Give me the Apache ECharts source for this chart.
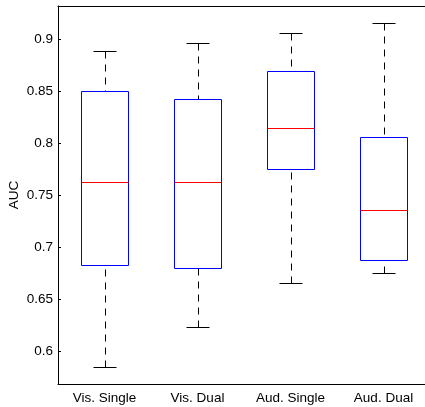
<!DOCTYPE html>
<html>
<head>
<meta charset="utf-8">
<script src="https://cdn.jsdelivr.net/npm/echarts@6/dist/echarts.min.js"></script>
<style>html,body{margin:0;padding:0;background:#fff}#c{width:425px;height:407px}</style>
</head>
<body>
<div id="c"></div>
<script>
const categories = ['Vis. Single', 'Vis. Dual', 'Aud. Single', 'Aud. Dual'];
const lowerWhisker = [0.585, 0.624, 0.666, 0.676];
const q1 = [0.683, 0.680, 0.775, 0.688];
const median = [0.763, 0.763, 0.815, 0.736];
const q3 = [0.850, 0.843, 0.870, 0.806];
const upperWhisker = [0.889, 0.896, 0.906, 0.916];

const data = categories.map((c, i) => [i, lowerWhisker[i], q1[i], median[i], q3[i], upperWhisker[i]]);
const FONT = 'Liberation Sans, Arial, Helvetica, sans-serif';
const r = v => Math.round(v) + 0.5;

function renderItem(params, api) {
  const x = api.coord([api.value(0), 0])[0];
  const band = api.size([1, 0])[0];
  const yLo = r(api.coord([api.value(0), api.value(1)])[1]);
  const yQ1 = r(api.coord([api.value(0), api.value(2)])[1]);
  const yMed = r(api.coord([api.value(0), api.value(3)])[1]);
  const yQ3 = r(api.coord([api.value(0), api.value(4)])[1]);
  const yHi = r(api.coord([api.value(0), api.value(5)])[1]);
  const cx = r(x);
  const hw = band * 0.25;
  const cw = band * 0.125;
  const xl = r(x - hw), xr = r(x + hw);
  const dash = { stroke: '#000', lineWidth: 1, lineDash: [7, 6] };
  const solid = { stroke: '#000', lineWidth: 1 };
  return {
    type: 'group',
    children: [
      { type: 'line', shape: { x1: cx, y1: yHi, x2: cx, y2: yQ3 }, style: dash },
      { type: 'line', shape: { x1: cx, y1: yLo, x2: cx, y2: yQ1 }, style: dash },
      { type: 'line', shape: { x1: r(x - cw), y1: yHi, x2: r(x + cw), y2: yHi }, style: solid },
      { type: 'line', shape: { x1: r(x - cw), y1: yLo, x2: r(x + cw), y2: yLo }, style: solid },
      { type: 'rect', shape: { x: xl, y: yQ3, width: xr - xl, height: yQ1 - yQ3 }, style: { fill: 'none', stroke: '#0000ff', lineWidth: 1 } },
      { type: 'line', shape: { x1: xl, y1: yMed, x2: xr, y2: yMed }, style: { stroke: '#ff0000', lineWidth: 1 } }
    ]
  };
}

const chart = echarts.init(document.getElementById('c'), null, { renderer: 'canvas' });
chart.setOption({
  animation: false,
  backgroundColor: '#fff',
  grid: { left: 58, top: 6, right: -5, bottom: 23, containLabel: false, outerBoundsMode: 'none' },
  xAxis: [
    {
      type: 'category', data: categories, position: 'bottom', boundaryGap: true,
      axisLine: { lineStyle: { color: '#000', width: 1 } },
      axisTick: { inside: true, alignWithLabel: true, length: 3, lineStyle: { color: '#000' } },
      axisLabel: { color: '#000', fontSize: 13.5, fontFamily: FONT, margin: 7 },
      splitLine: { show: false }
    },
    {
      type: 'category', data: categories, position: 'top', boundaryGap: true,
      axisLine: { lineStyle: { color: '#000', width: 1 } },
      axisTick: { inside: true, alignWithLabel: true, length: 3, lineStyle: { color: '#000' } },
      axisLabel: { show: false },
      splitLine: { show: false }
    }
  ],
  yAxis: {
    type: 'value', min: 0.569, max: 0.932, splitNumber: 7,
    name: 'AUC', nameLocation: 'middle', nameGap: 37, nameMoveOverlap: false,
    nameTextStyle: { color: '#000', fontSize: 13.5, fontFamily: FONT },
    axisLine: { show: true, lineStyle: { color: '#000', width: 1 } },
    axisTick: { show: true, inside: true, length: 3, lineStyle: { color: '#000' } },
    axisLabel: {
      color: '#000', fontSize: 13.5, fontFamily: FONT, margin: 5,
      showMinLabel: false, showMaxLabel: false,
      formatter: v => String(parseFloat(v.toFixed(2)))
    },
    splitLine: { show: false }
  },
  series: [{
    type: 'custom', renderItem: renderItem, data: data,
    encode: { x: 0, y: [1, 2, 3, 4, 5] }, clip: false
  }]
});
</script>
</body>
</html>
